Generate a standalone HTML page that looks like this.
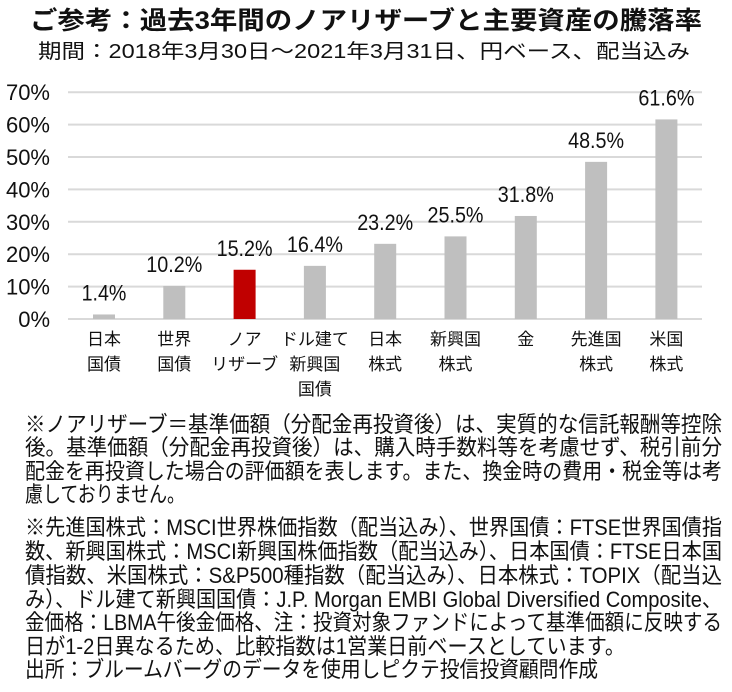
<!DOCTYPE html>
<html><head><meta charset="utf-8"><style>
html,body{margin:0;padding:0;background:#fff}
svg{display:block}
text{font-family:"Liberation Sans","Noto Sans CJK JP",sans-serif;fill:#111}
</style></head><body>
<svg id="c" width="732" height="692" viewBox="0 0 732 692">
<text x="366" y="29" text-anchor="middle" font-size="25" font-weight="bold" textLength="672" lengthAdjust="spacingAndGlyphs">ご参考：過去3年間のノアリザーブと主要資産の騰落率</text>
<text x="364" y="58" text-anchor="middle" font-size="20" textLength="652" lengthAdjust="spacingAndGlyphs">期間：2018年3月30日～2021年3月31日、円ベース、配当込み</text>
<g id="grid"></g><g id="bars"></g><g id="labels"></g>
<g font-size="22">
<text x="25" y="432" textLength="697" lengthAdjust="spacingAndGlyphs">※ノアリザーブ＝基準価額（分配金再投資後）は、実質的な信託報酬等控除</text>
<text x="25" y="455" textLength="697" lengthAdjust="spacingAndGlyphs">後。基準価額（分配金再投資後）は、購入時手数料等を考慮せず、税引前分</text>
<text x="25" y="479" textLength="697" lengthAdjust="spacingAndGlyphs">配金を再投資した場合の評価額を表します。また、換金時の費用・税金等は考</text>
<text x="25" y="502" textLength="160" lengthAdjust="spacingAndGlyphs">慮しておりません。</text>
<text x="25" y="535" textLength="697" lengthAdjust="spacingAndGlyphs">※先進国株式：MSCI世界株価指数（配当込み）、世界国債：FTSE世界国債指</text>
<text x="25" y="559" textLength="697" lengthAdjust="spacingAndGlyphs">数、新興国株式：MSCI新興国株価指数（配当込み）、日本国債：FTSE日本国</text>
<text x="25" y="583" textLength="697" lengthAdjust="spacingAndGlyphs">債指数、米国株式：S&amp;P500種指数（配当込み）、日本株式：TOPIX（配当込</text>
<text x="25" y="607" textLength="697" lengthAdjust="spacingAndGlyphs">み）、ドル建て新興国国債：J.P. Morgan EMBI Global Diversified Composite、</text>
<text x="25" y="630" textLength="697" lengthAdjust="spacingAndGlyphs">金価格：LBMA午後金価格、注：投資対象ファンドによって基準価額に反映する</text>
<text x="25" y="654" textLength="600" lengthAdjust="spacingAndGlyphs">日が1-2日異なるため、比較指数は1営業日前ベースとしています。</text>
<text x="25" y="677" textLength="573" lengthAdjust="spacingAndGlyphs">出所：ブルームバーグのデータを使用しピクテ投信投資顧問作成</text>
</g>
</svg>
<script>
const categories=[["日本","国債"],["世界","国債"],["ノア","リザーブ"],["ドル建て","新興国","国債"],["日本","株式"],["新興国","株式"],["金"],["先進国","株式"],["米国","株式"]];
const values=[1.4,10.2,15.2,16.4,23.2,25.5,31.8,48.5,61.6];
const valueLabels=["1.4%","10.2%","15.2%","16.4%","23.2%","25.5%","31.8%","48.5%","61.6%"];
const ticks=[0,10,20,30,40,50,60,70];
const highlight=2;
const NS="http://www.w3.org/2000/svg";
const y0=319,pxPer=3.24,x0=68,x1=702,band=70.3,first=104,bw=22;
const yS=v=>y0-v*pxPer, xS=i=>first+i*band;
function mk(t,a,p){const e=document.createElementNS(NS,t);for(const k in a)e.setAttribute(k,a[k]);p.appendChild(e);return e;}
const g=document.getElementById('grid'),b=document.getElementById('bars'),l=document.getElementById('labels');
ticks.forEach(t=>{
 const ln=mk('line',{x1:x0,x2:x1,y1:yS(t),y2:yS(t),stroke:'#d9d9d9','stroke-width':2},g);
 
 
 const tx=mk('text',{x:50,y:yS(t)+8,'text-anchor':'end','font-size':22},g);
 tx.textContent=t+'%';
 
 
});
values.forEach((v,i)=>{
 const r=mk('rect',{x:xS(i)-bw/2,y:yS(v),width:bw,height:y0-yS(v),fill:i===highlight?'#c00000':'#bfbfbf'},b);
 
 
 const vt=mk('text',{x:xS(i),y:yS(v)-14,'text-anchor':'middle','font-size':22,textLength:valueLabels[i].length*11.2,lengthAdjust:'spacingAndGlyphs'},l);
 vt.textContent=valueLabels[i];
 
 
 categories[i].forEach((s,j)=>{
  const ct=mk('text',{x:xS(i),y:345+j*25,'text-anchor':'middle','font-size':17},l);
  ct.textContent=s;
  
  
 });
});
</script>
</body></html>
